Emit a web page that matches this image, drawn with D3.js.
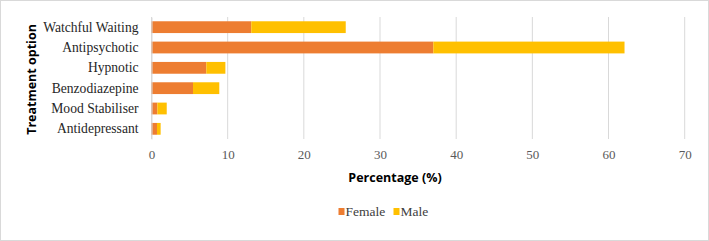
<!DOCTYPE html>
<html><head><meta charset="utf-8">
<script src="https://cdn.jsdelivr.net/npm/d3@7"></script>
<style>body{margin:0;background:#fff}svg{display:block}</style>
</head><body>
<script>
const categories = ["Watchful Waiting","Antipsychotic","Hypnotic","Benzodiazepine","Mood Stabiliser","Antidepressant"];
const female = [13.1, 37.0, 7.2, 5.45, 0.77, 0.72];
const male = [12.4, 25.1, 2.5, 3.45, 1.23, 0.48];
const seriesNames = ["Female","Male"];
const xTicks = [0,10,20,30,40,50,60,70];
const colors = ["#ED7D31","#FFC000"];

const SERIF='"Liberation Serif"';
const SANS='"Open Sans"';
const W=709,H=241;
const svg=d3.select("body").append("svg").attr("width",W).attr("height",H);
svg.append("rect").attr("x",0.5).attr("y",0.5).attr("width",W-1).attr("height",H-1).attr("fill","#fff").attr("stroke","#d9d9d9");

const x=d3.scaleLinear().domain([0,70]).range([151.5,684.7]);
const y=d3.scaleBand().domain(categories).range([17,139]).paddingInner(0.42).paddingOuter(0.21);

svg.append("g").selectAll("line").data(xTicks).join("line")
 .attr("x1",d=>x(d)).attr("x2",d=>x(d)).attr("y1",17).attr("y2",139)
 .attr("stroke","#d9d9d9").attr("stroke-width",1);

const rows=categories.map((c,i)=>({cat:c,Female:female[i],Male:male[i]}));
const stacked=d3.stack().keys(seriesNames)(rows);
svg.append("g").selectAll("g").data(stacked).join("g").attr("fill",(d,i)=>colors[i])
 .selectAll("rect").data(d=>d).join("rect")
 .attr("x",d=>x(d[0])).attr("width",d=>x(d[1])-x(d[0]))
 .attr("y",d=>y(d.data.cat)).attr("height",y.bandwidth());

const xa=svg.append("g").attr("transform","translate(0,139)")
 .call(d3.axisBottom(x).tickValues(xTicks).tickSize(0).tickPadding(11));
xa.attr("font-family",null).attr("font-size",null);
xa.select(".domain").remove();
xa.selectAll("text").style("font-family",SERIF).style("font-size","13px").attr("fill","#595959");

const ya=svg.append("g").attr("transform","translate(151.5,0)")
 .call(d3.axisLeft(y).tickSize(0).tickPadding(13));
ya.attr("font-family",null).attr("font-size",null);
ya.select(".domain").attr("stroke","#d9d9d9");
ya.selectAll("text").style("font-family",SERIF).style("font-size","13.6px").attr("fill","#262626");

svg.append("text").attr("x",395).attr("y",182).attr("text-anchor","middle")
 .style("font-family",SANS).style("font-weight","bold").style("font-size","12.5px").attr("fill","#000").text("Percentage (%)");
svg.append("text").attr("transform","translate(35.5,79.5) rotate(-90)").attr("text-anchor","middle")
 .style("font-family",SANS).style("font-weight","bold").style("font-size","12.5px").attr("fill","#000").text("Treatment option");

const legX=[338.5,393.5];
seriesNames.forEach((s,i)=>{
  svg.append("rect").attr("x",legX[i]).attr("y",208).attr("width",6).attr("height",7).attr("fill",colors[i]);
  svg.append("text").attr("x",legX[i]+7).attr("y",216).style("font-family",SERIF).style("font-size","13.5px")
   .attr("fill","#404040").text(s);
});
</script>
</body></html>
